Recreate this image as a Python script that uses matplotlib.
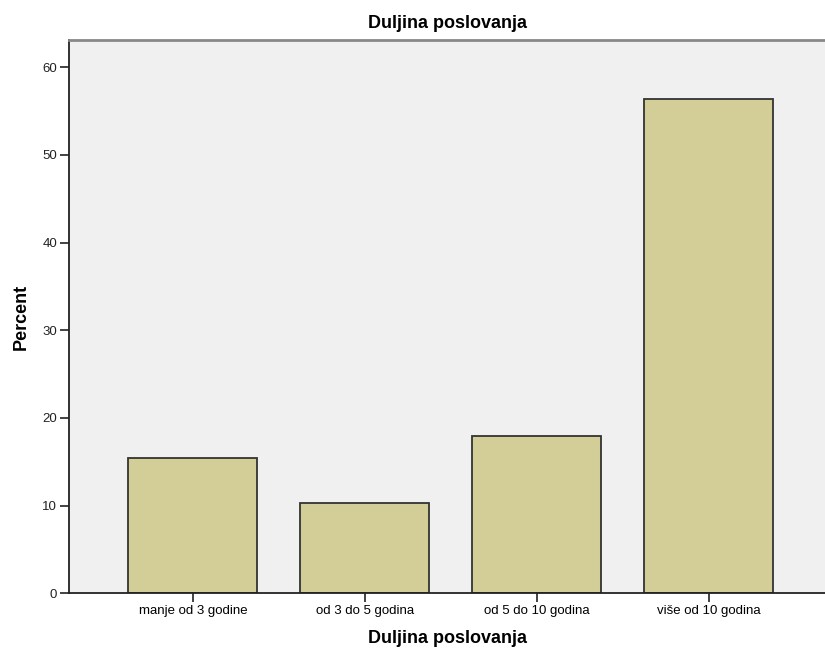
import numpy as np
import matplotlib.pyplot as plt

plt.rcParams['font.family'] = ['Liberation Sans', 'DejaVu Sans']

categories = ["manje od 3 godine", "od 3 do 5 godina", "od 5 do 10 godina", "više od 10 godina"]
percent = [15.4, 10.3, 17.9, 56.4]
yticks = [0, 10, 20, 30, 40, 50, 60]

fig = plt.figure(figsize=(8.25, 6.54), dpi=100)
ax = fig.add_axes([69/825, 60.7/654, 1 - 69/825, (593.3 - 40)/654])
ax.set_facecolor('#f0f0f0')

x = np.arange(len(categories))
ax.bar(x, percent, width=0.75, color='#d3ce98', edgecolor='#333333', linewidth=1.3, zorder=2)

ax.set_xlim(-0.72, 3.675)
ax.set_ylim(0, 63.1)
ax.set_xticks(x)
ax.set_xticklabels(categories, fontsize=9.5)
ax.set_yticks(yticks)
ax.set_yticklabels([str(t) for t in yticks], fontsize=9.5, color='#222222')
ax.tick_params(axis='both', direction='out', length=6.5, width=1.2, color='#222222', pad=2)

for s in ['left', 'bottom']:
    ax.spines[s].set_color('#222222')
    ax.spines[s].set_linewidth(1.3)
ax.spines['top'].set_color('#888888')
ax.spines['top'].set_linewidth(2)
ax.spines['right'].set_visible(False)

ax.set_title("Duljina poslovanja", fontsize=13, fontweight='bold', pad=9)
ax.set_xlabel("Duljina poslovanja", fontsize=13, fontweight='bold', labelpad=9)
ax.set_ylabel("Percent", fontsize=13, fontweight='bold', labelpad=9)

fig.savefig("out.png", dpi=100)
